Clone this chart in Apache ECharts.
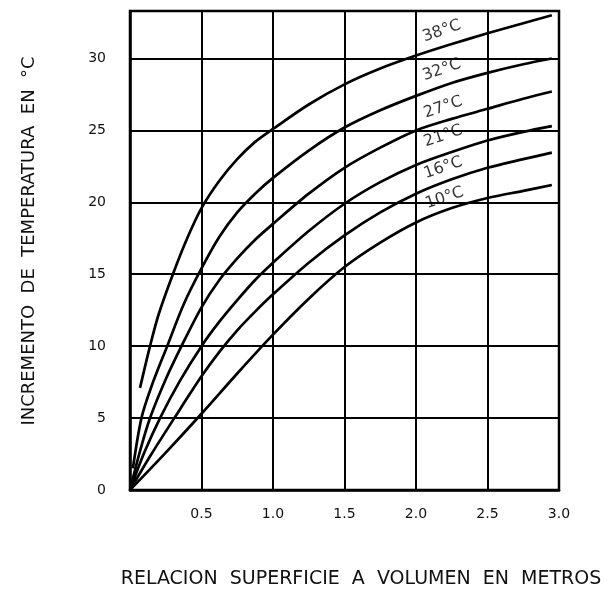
<!DOCTYPE html>
<html>
<head>
<meta charset="utf-8">
<script src="https://cdn.jsdelivr.net/npm/echarts@6/dist/echarts.min.js"></script>
<style>
html,body{margin:0;padding:0;background:#fff;}
#c{width:612px;height:589px;}
</style>
</head>
<body>
<div id="c"></div>
<script>
// ---- data ----
const curveNames = ['38°C', '32°C', '27°C', '21°C', '16°C', '10°C'];
const c38 = [[0.07,7.1],[0.14,10],[0.2,12.2],[0.3,15.0],[0.4,17.5],[0.5,19.6],[0.625,21.5],[0.75,23.0],[0.875,24.2],[1.0,25.1],[1.25,26.8],[1.5,28.2],[1.75,29.3],[2.0,30.2],[2.25,31.0],[2.5,31.75],[2.75,32.45],[2.95,33.0]];
const c32 = [[0.02,1.5],[0.08,5],[0.15,7.2],[0.26,10],[0.375,12.9],[0.5,15.4],[0.625,17.6],[0.75,19.3],[0.875,20.6],[1.0,21.7],[1.25,23.6],[1.5,25.2],[1.75,26.4],[2.0,27.4],[2.25,28.3],[2.5,29.0],[2.75,29.6],[2.95,30.0]];
const c27 = [[0,0],[0.07,2.7],[0.14,5],[0.25,7.7],[0.36,10],[0.5,12.7],[0.625,14.6],[0.75,16.1],[0.875,17.4],[1.0,18.5],[1.25,20.6],[1.5,22.4],[1.75,23.8],[2.0,25.0],[2.25,25.8],[2.5,26.5],[2.75,27.2],[2.95,27.7]];
const c21 = [[0,0],[0.1,2.6],[0.21,5],[0.35,7.6],[0.5,10],[0.625,11.7],[0.75,13.2],[0.875,14.6],[1.0,15.8],[1.25,18.0],[1.5,19.9],[1.75,21.4],[2.0,22.6],[2.25,23.5],[2.5,24.3],[2.75,24.9],[2.95,25.3]];
const c16 = [[0,0],[0.15,2.5],[0.31,5],[0.5,7.9],[0.625,9.6],[0.75,11.1],[0.875,12.4],[1.0,13.6],[1.25,15.8],[1.5,17.7],[1.75,19.3],[2.0,20.6],[2.25,21.6],[2.5,22.4],[2.75,23.0],[2.95,23.45]];
const c10 = [[0,0],[0.25,2.6],[0.5,5.3],[0.75,8.1],[1.0,10.8],[1.25,13.3],[1.5,15.5],[1.75,17.2],[2.0,18.6],[2.25,19.6],[2.5,20.3],[2.75,20.8],[2.95,21.2]];
const curves = [c38, c32, c27, c21, c16, c10];
const labelPos = [[2.18,31.9],[2.18,29.2],[2.19,26.6],[2.19,24.6],[2.19,22.4],[2.2,20.3]];
const xTickLabels = ['0', '0.5', '1.0', '1.5', '2.0', '2.5', '3.0'];
const yTickLabels = ['0', '5', '10', '15', '20', '25', '30'];
const xTitle = 'RELACION  SUPERFICIE  A  VOLUMEN  EN  METROS';
const yTitle = 'INCREMENTO  DE  TEMPERATURA  EN  °C';

// ---- chart ----
const chart = echarts.init(document.getElementById('c'), null, {renderer: 'canvas'});
const FONT = 'DejaVu Sans';
const series = curves.map((d, i) => ({
  type: 'line', name: curveNames[i], data: d, smooth: 0.3, symbol: 'none',
  lineStyle: {color: '#000', width: 2.7}, z: 5
}));
series.push({
  type: 'scatter', symbolSize: 0, z: 6,
  data: labelPos.map((p, i) => ({value: p, name: curveNames[i]})),
  label: {
    show: true, position: 'inside', formatter: p => p.name,
    rotate: 19, color: '#000', fontFamily: FONT, fontSize: 16, textBorderWidth: 0,
    align: 'center', verticalAlign: 'middle'
  }
});
chart.setOption({
  animation: false,
  backgroundColor: '#fff',
  grid: {left: 130, right: 53, top: 11, bottom: 99, show: true, borderColor: '#000', borderWidth: 2.5, outerBoundsMode: 'none'},
  xAxis: {
    type: 'value', min: 0, max: 3, interval: 0.5,
    axisLine: {show: true, lineStyle: {color: '#000', width: 2.5}},
    axisTick: {show: false},
    splitLine: {show: true, lineStyle: {color: '#000', width: 2}},
    axisLabel: {
      showMinLabel: false, margin: 17, color: '#111', fontFamily: FONT, fontSize: 14,
      formatter: v => xTickLabels[Math.round(v / 0.5)] || ''
    }
  },
  yAxis: {
    type: 'value', min: 0, max: 33.3, interval: 5,
    axisLine: {show: true, lineStyle: {color: '#000', width: 2.5}},
    axisTick: {show: false},
    splitLine: {show: true, lineStyle: {color: '#000', width: 2}},
    axisLabel: {
      showMaxLabel: false, margin: 24, color: '#111', fontFamily: FONT, fontSize: 14,
      formatter: v => (Math.abs(v / 5 - Math.round(v / 5)) < 1e-6 ? (yTickLabels[Math.round(v / 5)] || '') : '')
    }
  },
  graphic: [
    {type: 'text', x: 361, y: 579, style: {text: xTitle, fill: '#111', font: '19px "DejaVu Sans"', textAlign: 'center', textVerticalAlign: 'middle'}},
    {type: 'text', x: 29, y: 241, rotation: Math.PI / 2, style: {text: yTitle, fill: '#111', font: '18px "DejaVu Sans"', textAlign: 'center', textVerticalAlign: 'middle'}}
  ],
  series: series
});
</script>
</body>
</html>
